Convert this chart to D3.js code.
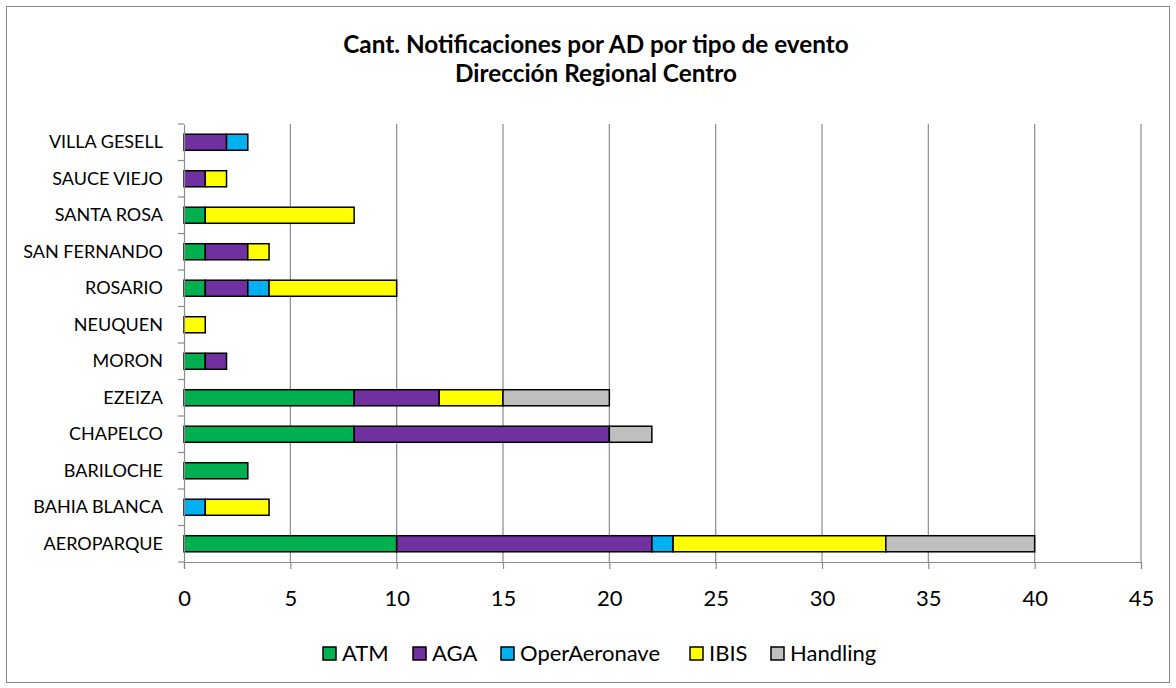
<!DOCTYPE html>
<html>
<head>
<meta charset="utf-8">
<script src="https://cdn.jsdelivr.net/npm/d3@7"></script>
<style>
  body { margin: 0; background: #fff; }
  text { font-family: Lato, "Open Sans", sans-serif; fill: #000; }
</style>
</head>
<body>
<div id="viz"></div>
<script>
var categories = ["AEROPARQUE", "BAHIA BLANCA", "BARILOCHE", "CHAPELCO", "EZEIZA", "MORON",
  "NEUQUEN", "ROSARIO", "SAN FERNANDO", "SANTA ROSA", "SAUCE VIEJO", "VILLA GESELL"];
var seriesNames = ["ATM", "AGA", "OperAeronave", "IBIS", "Handling"];
var ATM =          [10, 0, 3, 8, 8, 1, 0, 1, 1, 1, 0, 0];
var AGA =          [12, 0, 0, 12, 4, 1, 0, 2, 2, 0, 1, 2];
var OperAeronave = [1, 1, 0, 0, 0, 0, 0, 1, 0, 0, 0, 1];
var IBIS =         [10, 3, 0, 0, 3, 0, 1, 6, 1, 7, 1, 0];
var Handling =     [7, 0, 0, 2, 5, 0, 0, 0, 0, 0, 0, 0];
var colors = ["#00b050", "#7030a0", "#00b0f0", "#ffff00", "#bfbfbf"];
var xTicks = [0, 5, 10, 15, 20, 25, 30, 35, 40, 45];

var W = 1176, H = 688;
var pLeft = 184, pRight = 1141, pTop = 124, pBottom = 562;

var rows = categories.map(function(c, i) {
  return {cat: c, ATM: ATM[i], AGA: AGA[i], OperAeronave: OperAeronave[i], IBIS: IBIS[i], Handling: Handling[i]};
});
var stacked = d3.stack().keys(seriesNames)(rows);

var svg = d3.select("#viz").append("svg").attr("width", W).attr("height", H);

svg.append("rect").attr("x", 6.5).attr("y", 6.5).attr("width", 1163).attr("height", 676)
  .attr("fill", "#fff").attr("stroke", "#868686").attr("stroke-width", 1);

var x = d3.scaleLinear().domain([0, 45]).range([pLeft, pRight]);
var y = d3.scaleBand().domain(categories.slice().reverse()).range([pTop, pBottom]).paddingInner(0.56).paddingOuter(0.28);

// gridlines
svg.append("g").selectAll("line").data(xTicks.slice(1)).enter().append("line")
  .attr("x1", function(d) { return x(d); }).attr("x2", function(d) { return x(d); })
  .attr("y1", pTop).attr("y2", pBottom)
  .attr("stroke", "#8c8c8c").attr("stroke-width", 1.2);

// bars
svg.append("g").selectAll("g").data(stacked).enter().append("g")
  .attr("fill", function(d, i) { return colors[i]; })
  .selectAll("rect").data(function(d) { return d.filter(function(p) { return p[1] > p[0]; }); })
  .enter().append("rect")
  .attr("x", function(d) { return x(d[0]); })
  .attr("width", function(d) { return x(d[1]) - x(d[0]); })
  .attr("y", function(d) { return y(d.data.cat); })
  .attr("height", y.bandwidth())
  .attr("stroke", "#000").attr("stroke-width", 1.5);

// x axis
var xAxis = svg.append("g").attr("transform", "translate(0," + pBottom + ")")
  .call(d3.axisBottom(x).tickValues(xTicks).tickSize(7).tickPadding(21));
xAxis.select(".domain").attr("stroke", "#8c8c8c").attr("stroke-width", 1.2);
xAxis.selectAll(".tick line").attr("stroke", "#8c8c8c").attr("stroke-width", 1.2);
xAxis.selectAll("text").attr("font-size", 22).style("font-family", "Lato, sans-serif");

// y axis
var yAxis = svg.append("g").attr("transform", "translate(" + pLeft + ",0)")
  .call(d3.axisLeft(y).tickSize(0).tickPadding(21));
yAxis.select(".domain").attr("stroke", "#8c8c8c").attr("stroke-width", 1.2);
yAxis.selectAll("text").attr("font-size", 18).style("font-family", "Lato, sans-serif");
var step = y.step();
var bounds = d3.range(categories.length + 1).map(function(i) { return pTop + i * step; });
svg.append("g").selectAll("line").data(bounds).enter().append("line")
  .attr("x1", pLeft - 6).attr("x2", pLeft)
  .attr("y1", function(d) { return d; }).attr("y2", function(d) { return d; })
  .attr("stroke", "#8c8c8c").attr("stroke-width", 1.2);

// title
svg.append("text").attr("x", 596).attr("y", 53).attr("text-anchor", "middle")
  .attr("font-size", 24.3).attr("font-weight", "bold").text("Cant. Notificaciones por AD por tipo de evento");
svg.append("text").attr("x", 596).attr("y", 82).attr("text-anchor", "middle")
  .attr("font-size", 24.3).attr("font-weight", "bold").text("Dirección Regional Centro");

// legend
var legendX = [323, 413, 501, 690, 771];
var lg = svg.append("g").selectAll("g").data(seriesNames).enter().append("g")
  .attr("transform", function(d, i) { return "translate(" + legendX[i] + ",647)"; });
lg.append("rect").attr("width", 13).attr("height", 13)
  .attr("fill", function(d, i) { return colors[i]; })
  .attr("stroke", "#000").attr("stroke-width", 1.5);
lg.append("text").attr("x", 19).attr("y", 14).attr("font-size", 22).text(function(d) { return d; });
</script>
</body>
</html>
